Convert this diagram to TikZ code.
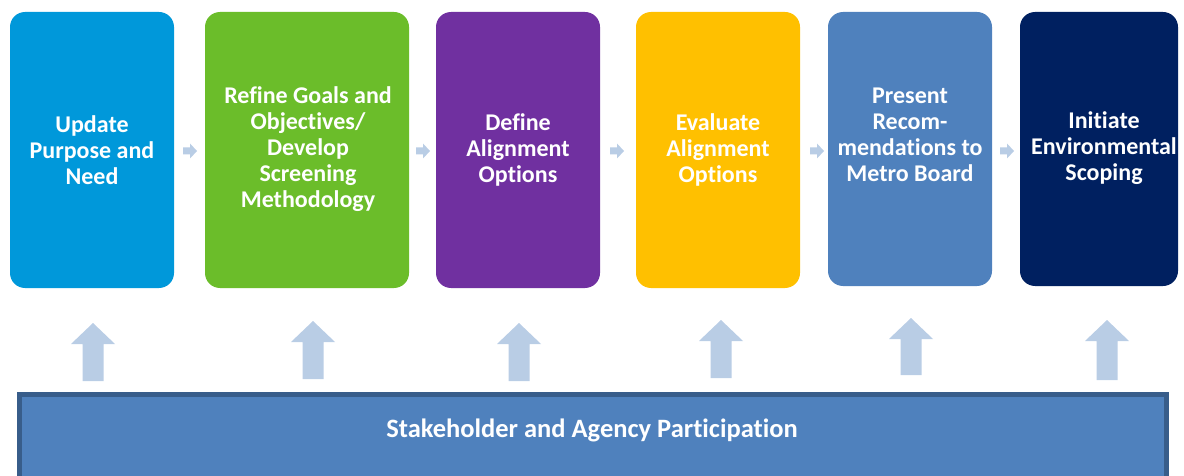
\documentclass[tikz,border=0pt]{standalone}
\usepackage{fontspec}
\setmainfont{Carlito}[Ligatures=NoCommon]
\definecolor{cA}{RGB}{0,152,218}
\definecolor{cB}{RGB}{107,189,42}
\definecolor{cC}{RGB}{112,48,160}
\definecolor{cD}{RGB}{255,192,0}
\definecolor{cE}{RGB}{79,129,189}
\definecolor{cF}{RGB}{0,32,96}
\definecolor{arr}{RGB}{185,205,229}
\definecolor{barline}{RGB}{56,93,138}
\tikzset{
  stepbox/.style={rounded corners=15pt},
  lbl/.style={text=white, font=\fontsize{24}{26}\selectfont\bfseries, align=center, inner sep=0pt},
  barlbl/.style={text=white, font=\fontsize{26.5}{28}\selectfont\bfseries, inner sep=0pt},
  arrowshape/.style={fill=arr, draw=none},
}
\begin{document}
\begin{tikzpicture}[x=1pt,y=-1pt]
\useasboundingbox (0,0) rectangle (1184,476);
\clip (0,0) rectangle (1184,476);
% boxes
\fill[stepbox, cA] (10,12) rectangle (174,288);
\fill[stepbox, cB] (205,12) rectangle (409,288);
\fill[stepbox, cC] (436,12) rectangle (600,288);
\fill[stepbox, cD] (636,12) rectangle (800,288);
\fill[stepbox, cE] (828,12) rectangle (992,286);
\fill[stepbox, cF] (1020,12) rectangle (1178,286);
% labels
\node[lbl] (t1) at (92,150) {Update\\Purpose and\\Need};
\node[lbl] (t2) at (308,149) {Refine Goals and\\Objectives/\\Develop\\Screening\\Methodology};
\node[lbl] (t3) at (518,150) {Define\\Alignment\\Options};
\node[lbl] (t4) at (718,150) {Evaluate\\Alignment\\Options};
\node[lbl] (t5) at (910,135) {Present\\Recom-\\mendations to\\Metro Board};
\node[lbl] (t6) at (1104,148) {Initiate\\Environmental\\Scoping};
% small right arrows
\foreach \x in {183,416,610,810,1000}{
  \fill[arrowshape] (\x,147.5) -- (\x+7,147.5) -- (\x+7,143.5) -- (\x+14,151) -- (\x+7,158.5) -- (\x+7,154.5) -- (\x,154.5) -- cycle;
}
% up arrows
\foreach \cx/\ty/\by in {93/323/381, 313/321/379, 519/323/381, 721/320/378, 911/318/375, 1107/320/380}{
  \fill[arrowshape] (\cx-10.5,\by) -- (\cx-10.5,\ty+21) -- (\cx-22,\ty+21) -- (\cx,\ty) -- (\cx+22,\ty+21) -- (\cx+10.5,\ty+21) -- (\cx+10.5,\by) -- cycle;
}
% bottom bar
\draw[line width=5pt, draw=barline, fill=cE] (19,394.5) rectangle (1166,500);
\node[barlbl] (bar) at (592,430) {Stakeholder and Agency Participation};
\end{tikzpicture}
\end{document}
